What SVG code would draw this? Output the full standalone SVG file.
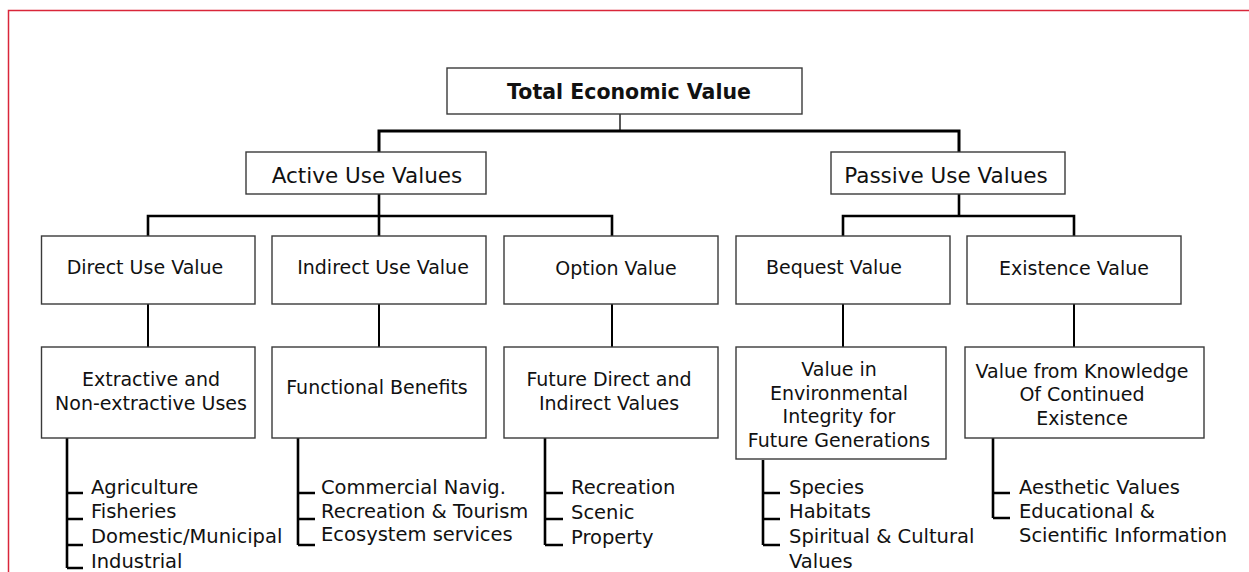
<svg xmlns="http://www.w3.org/2000/svg" width="1249" height="572" viewBox="0 0 1249 572">
<style>
.box{fill:#fff;stroke:#3a3a3a;stroke-width:1.4}
.t{font-family:"DejaVu Sans",sans-serif;font-size:19px;fill:#111;text-anchor:middle}
.big{font-size:21.5px}
.bold{font-weight:bold;font-size:20.5px}
.li{font-family:"DejaVu Sans",sans-serif;font-size:19.5px;fill:#111}
.c{fill:none;stroke:#000;stroke-linecap:butt;stroke-linejoin:miter}
</style>
<rect width="1249" height="572" fill="#fff"/>
<path d="M8.5,572 V10.5 H1249" fill="none" stroke="#d9263a" stroke-width="1.5"/>
<g id="connectors">
<path class="c" d="M620,112 V131" stroke-width="1.3"/>
<path class="c" d="M379,152 V131 H959 V152" stroke-width="3"/>
<path class="c" d="M148,236 V216 H612 V236 M379,194 V236" stroke-width="2.6"/>
<path class="c" d="M843,236 V216 H1074 V236 M959,194 V216" stroke-width="2.6"/>
<path class="c" d="M148,304 V347 M379,304 V347 M612,304 V347 M843,304 V347 M1074,304 V347" stroke-width="2"/>
<path class="c" d="M67,438 V568 M67,493 H83 M67,519 H83 M67,545 H83 M67,568 H83" stroke-width="2.6"/>
<path class="c" d="M298,438 V545 M298,493 H315 M298,519 H315 M298,545 H315" stroke-width="2.6"/>
<path class="c" d="M545,438 V545 M545,493 H563 M545,519 H563 M545,545 H563" stroke-width="2.6"/>
<path class="c" d="M763,460 V545 M763,493 H780 M763,519 H780 M763,545 H780" stroke-width="2.6"/>
<path class="c" d="M993,438 V518 M993,493 H1010 M993,518 H1010" stroke-width="2.6"/>
</g>
<g id="tev"><rect class="box" x="447" y="68" width="355" height="46"/><text class="t bold" x="629" y="99">Total Economic Value</text></g>
<g id="active"><rect class="box" x="246" y="152" width="240" height="42"/><text class="t big" x="367" y="183">Active Use Values</text></g>
<g id="passive"><rect class="box" x="831" y="152" width="234" height="42"/><text class="t big" x="946" y="183">Passive Use Values</text></g>
<g id="direct"><rect class="box" x="41.5" y="236" width="213.5" height="68"/><text class="t" x="145" y="274">Direct Use Value</text></g>
<g id="indirect"><rect class="box" x="272" y="236" width="214" height="68"/><text class="t" x="383" y="274">Indirect Use Value</text></g>
<g id="option"><rect class="box" x="504" y="236" width="214" height="68"/><text class="t" x="616" y="275">Option Value</text></g>
<g id="bequest"><rect class="box" x="736" y="236" width="214" height="68"/><text class="t" x="834" y="274">Bequest Value</text></g>
<g id="existence"><rect class="box" x="967" y="236" width="214" height="68"/><text class="t" x="1074" y="275">Existence Value</text></g>
<g id="extractive"><rect class="box" x="41.5" y="347" width="213.5" height="91"/><text class="t" x="151" y="386">Extractive and</text><text class="t" x="151" y="410">Non-extractive Uses</text></g>
<g id="functional"><rect class="box" x="272" y="347" width="214" height="91"/><text class="t" x="377" y="394">Functional Benefits</text></g>
<g id="future"><rect class="box" x="504" y="347" width="214" height="91"/><text class="t" x="609" y="386">Future Direct and</text><text class="t" x="609" y="410">Indirect Values</text></g>
<g id="envintegrity"><rect class="box" x="736" y="347" width="210" height="112"/><text class="t" x="839" y="376">Value in</text><text class="t" x="839" y="400">Environmental</text><text class="t" x="839" y="423">Integrity for</text><text class="t" x="839" y="447">Future Generations</text></g>
<g id="knowledge"><rect class="box" x="965" y="347" width="239" height="91"/><text class="t" x="1082" y="378">Value from Knowledge</text><text class="t" x="1082" y="401">Of Continued</text><text class="t" x="1082" y="425">Existence</text></g>
<g id="direct-items"><text class="li" x="91" y="494">Agriculture</text><text class="li" x="91" y="518">Fisheries</text><text class="li" x="91" y="543">Domestic/Municipal</text><text class="li" x="91" y="568">Industrial</text></g>
<g id="indirect-items"><text class="li" x="321" y="494">Commercial Navig.</text><text class="li" x="321" y="518">Recreation &amp; Tourism</text><text class="li" x="321" y="541">Ecosystem services</text></g>
<g id="option-items"><text class="li" x="571" y="494">Recreation</text><text class="li" x="571" y="519">Scenic</text><text class="li" x="571" y="544">Property</text></g>
<g id="bequest-items"><text class="li" x="789" y="494">Species</text><text class="li" x="789" y="518">Habitats</text><text class="li" x="789" y="543">Spiritual &amp; Cultural</text><text class="li" x="789" y="568">Values</text></g>
<g id="existence-items"><text class="li" x="1019" y="494">Aesthetic Values</text><text class="li" x="1019" y="518">Educational &amp;</text><text class="li" x="1019" y="542">Scientific Information</text></g>
</svg>
